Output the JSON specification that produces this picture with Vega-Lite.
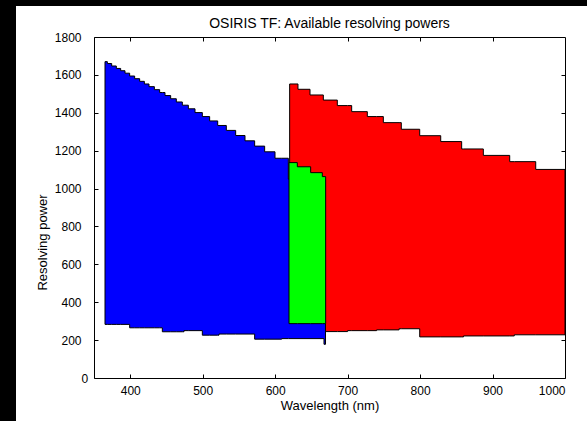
{
  "$schema": "https://vega.github.io/schema/vega-lite/v6.json",
  "background": "white",
  "padding": 0,
  "config": {
    "font": "Liberation Sans",
    "axis": {"grid": false, "domain": false, "tickColor": "black", "tickSize": -4, "tickWidth": 1, "labelColor": "black", "labelFont": "Liberation Sans", "labelFontSize": 12, "titleColor": "black", "titleFont": "Liberation Sans", "titleFontSize": 13, "titleFontWeight": "normal", "format": "d"},
    "title": {"font": "Liberation Sans", "fontSize": 14, "fontWeight": "normal", "color": "black"}
  },
  "datasets": {
    "power": [
      {"s": "red", "wl": 620, "hi": 1552, "lo": 245},
      {"s": "red", "wl": 631.5, "hi": 1524, "lo": 245},
      {"s": "red", "wl": 648.1, "hi": 1494, "lo": 245},
      {"s": "red", "wl": 666.5, "hi": 1467, "lo": 245},
      {"s": "red", "wl": 685.8, "hi": 1438, "lo": 245},
      {"s": "red", "wl": 700, "hi": 1438, "lo": 250},
      {"s": "red", "wl": 705.6, "hi": 1406, "lo": 250},
      {"s": "red", "wl": 727.2, "hi": 1380, "lo": 250},
      {"s": "red", "wl": 740, "hi": 1380, "lo": 254},
      {"s": "red", "wl": 749.3, "hi": 1348, "lo": 254},
      {"s": "red", "wl": 771, "hi": 1348, "lo": 260},
      {"s": "red", "wl": 774.1, "hi": 1313, "lo": 260},
      {"s": "red", "wl": 799.5, "hi": 1279, "lo": 217},
      {"s": "red", "wl": 828.5, "hi": 1248, "lo": 217},
      {"s": "red", "wl": 857.4, "hi": 1209, "lo": 217},
      {"s": "red", "wl": 860, "hi": 1209, "lo": 222},
      {"s": "red", "wl": 887.3, "hi": 1175, "lo": 222},
      {"s": "red", "wl": 923.7, "hi": 1142, "lo": 222},
      {"s": "red", "wl": 930, "hi": 1142, "lo": 228},
      {"s": "red", "wl": 959.6, "hi": 1101, "lo": 228},
      {"s": "red", "wl": 1000, "hi": 1101, "lo": 228},
      {"s": "blue", "wl": 365.2, "hi": 1670, "lo": 283},
      {"s": "blue", "wl": 368.4, "hi": 1660, "lo": 283},
      {"s": "blue", "wl": 374.4, "hi": 1647, "lo": 283},
      {"s": "blue", "wl": 380.8, "hi": 1634, "lo": 283},
      {"s": "blue", "wl": 386.8, "hi": 1622, "lo": 283},
      {"s": "blue", "wl": 392.8, "hi": 1609, "lo": 283},
      {"s": "blue", "wl": 399.2, "hi": 1594, "lo": 265},
      {"s": "blue", "wl": 406.1, "hi": 1580, "lo": 265},
      {"s": "blue", "wl": 413.0, "hi": 1566, "lo": 265},
      {"s": "blue", "wl": 419.5, "hi": 1552, "lo": 265},
      {"s": "blue", "wl": 425.9, "hi": 1538, "lo": 265},
      {"s": "blue", "wl": 433.3, "hi": 1522, "lo": 265},
      {"s": "blue", "wl": 440.6, "hi": 1507, "lo": 265},
      {"s": "blue", "wl": 444.3, "hi": 1507, "lo": 244},
      {"s": "blue", "wl": 448.0, "hi": 1491, "lo": 244},
      {"s": "blue", "wl": 455.8, "hi": 1474, "lo": 244},
      {"s": "blue", "wl": 463.6, "hi": 1457, "lo": 244},
      {"s": "blue", "wl": 471.9, "hi": 1440, "lo": 244},
      {"s": "blue", "wl": 474.2, "hi": 1440, "lo": 250},
      {"s": "blue", "wl": 480.2, "hi": 1421, "lo": 250},
      {"s": "blue", "wl": 489.4, "hi": 1401, "lo": 250},
      {"s": "blue", "wl": 499.5, "hi": 1380, "lo": 226},
      {"s": "blue", "wl": 509.6, "hi": 1357, "lo": 226},
      {"s": "blue", "wl": 520.7, "hi": 1333, "lo": 226},
      {"s": "blue", "wl": 522.5, "hi": 1333, "lo": 232},
      {"s": "blue", "wl": 532.6, "hi": 1307, "lo": 232},
      {"s": "blue", "wl": 545.5, "hi": 1280, "lo": 232},
      {"s": "blue", "wl": 558.4, "hi": 1252, "lo": 232},
      {"s": "blue", "wl": 571.7, "hi": 1224, "lo": 205},
      {"s": "blue", "wl": 585.5, "hi": 1194, "lo": 205},
      {"s": "blue", "wl": 599.8, "hi": 1160, "lo": 205},
      {"s": "blue", "wl": 609.0, "hi": 1160, "lo": 208},
      {"s": "blue", "wl": 618.2, "hi": 1050, "lo": 208},
      {"s": "blue", "wl": 667.4, "hi": 1050, "lo": 178},
      {"s": "blue", "wl": 669.5, "hi": 1050, "lo": 178},
      {"s": "green", "wl": 619.1, "hi": 1137, "lo": 287},
      {"s": "green", "wl": 630.6, "hi": 1115, "lo": 287},
      {"s": "green", "wl": 649, "hi": 1084, "lo": 287},
      {"s": "green", "wl": 665.1, "hi": 1063, "lo": 287},
      {"s": "green", "wl": 669.7, "hi": 1063, "lo": 287}
    ]
  },
  "spacing": 0,
  "hconcat": [
    {"width": 16, "height": 421, "view": {"fill": "black", "stroke": null}, "data": {"values": []}, "mark": "rect"},
    {
      "spacing": 0,
      "vconcat": [
        {"width": 571, "height": 6, "view": {"fill": "black", "stroke": null}, "data": {"values": []}, "mark": "rect"},
        {"width": 571, "height": 10, "view": {"stroke": null}, "data": {"values": []}, "mark": "rect"},
        {
          "spacing": 18,
          "hconcat": [
            {"width": 1, "height": 1, "view": {"stroke": null}, "data": {"values": []}, "mark": "rect"},
            {
              "width": 471,
              "height": 341,
              "view": {"stroke": "black", "strokeWidth": 1},
              "title": {"text": "OSIRIS TF: Available resolving powers", "baseline": "alphabetic", "offset": -11, "anchor": "middle"},
              "data": {"name": "power"},
              "layer": [
                {
                  "transform": [{"filter": "datum.s === 'red'"}],
                  "mark": {"type": "area", "interpolate": "step-after", "fill": "#ff0000", "fillOpacity": 1, "stroke": "black", "strokeWidth": 1},
                  "encoding": {
                    "x": {"field": "wl", "type": "quantitative", "scale": {"domain": [350, 1000], "nice": false, "zero": false},
                      "axis": {"orient": "bottom", "values": [400, 500, 600, 700, 800, 900, 1000], "labelPadding": 11, "title": "Wavelength (nm)", "titleBaseline": "alphabetic", "titleY": 31.3}},
                    "y": {"field": "hi", "type": "quantitative", "scale": {"domain": [0, 1800], "nice": false, "zero": true},
                      "axis": {"orient": "left", "values": [0, 200, 400, 600, 800, 1000, 1200, 1400, 1600, 1800], "labelPadding": 17, "title": "Resolving power", "titleBaseline": "middle", "titleX": -52, "titleY": 205,
                        "labelAlign": {"condition": {"test": "datum.value === 0", "value": "left"}, "value": "right"}}},
                    "y2": {"field": "lo"}
                  }
                },
                {
                  "transform": [{"filter": "datum.s === 'blue'"}],
                  "mark": {"type": "area", "interpolate": "step-after", "fill": "#0000ff", "fillOpacity": 1, "stroke": "black", "strokeWidth": 1},
                  "encoding": {
                    "x": {"field": "wl", "type": "quantitative", "axis": null},
                    "y": {"field": "hi", "type": "quantitative", "axis": null},
                    "y2": {"field": "lo"}
                  }
                },
                {
                  "transform": [{"filter": "datum.s === 'green'"}],
                  "mark": {"type": "area", "interpolate": "step-after", "fill": "#00ff00", "fillOpacity": 1, "stroke": "black", "strokeWidth": 1},
                  "encoding": {
                    "x": {"field": "wl", "type": "quantitative", "axis": null},
                    "y": {"field": "hi", "type": "quantitative", "axis": null},
                    "y2": {"field": "lo"}
                  }
                },
                {
                  "mark": {"type": "point", "opacity": 0},
                  "encoding": {
                    "x": {"field": "wl", "type": "quantitative", "axis": {"orient": "top", "values": [400, 500, 600, 700, 800, 900], "labels": false, "title": null, "minExtent": 0, "maxExtent": 0}},
                    "y": {"field": "hi", "type": "quantitative", "axis": {"orient": "right", "values": [200, 400, 600, 800, 1000, 1200, 1400, 1600], "labels": false, "title": null, "minExtent": 0, "maxExtent": 0}}
                  }
                }
              ],
              "resolve": {"axis": {"x": "independent", "y": "independent"}}
            }
          ]
        },
        {"width": 571, "height": 8, "view": {"stroke": null}, "data": {"values": []}, "mark": "rect"},
        {"width": 571, "height": 1, "view": {"fill": "black", "stroke": null}, "data": {"values": []}, "mark": "rect"}
      ]
    }
  ]
}
